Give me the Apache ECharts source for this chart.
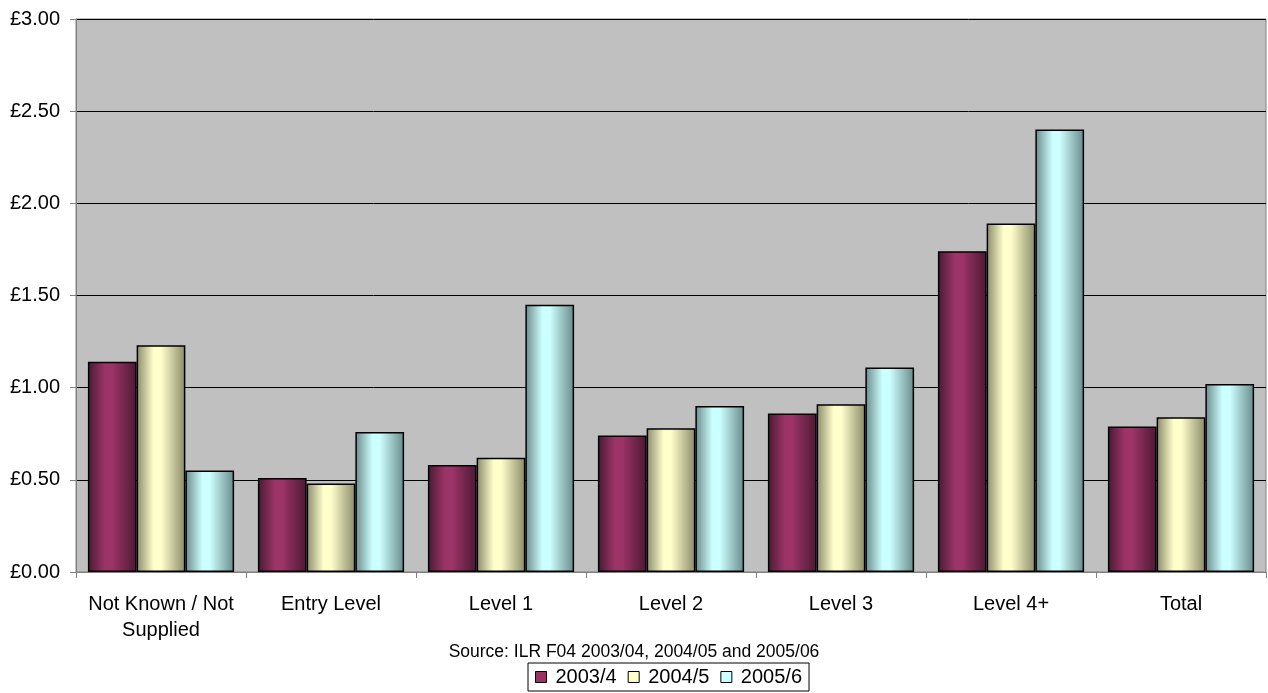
<!DOCTYPE html>
<html>
<head>
<meta charset="utf-8">
<script src="https://cdn.jsdelivr.net/npm/echarts@6/dist/echarts.min.js"></script>
<style>
html,body{margin:0;padding:0;background:#fff;}
#c{width:1268px;height:693px;}
</style>
</head>
<body>
<div id="c"></div>
<script>
const categories = ['Not Known / Not\nSupplied', 'Entry Level', 'Level 1', 'Level 2', 'Level 3', 'Level 4+', 'Total'];
const seriesNames = ['2003/4', '2004/5', '2005/6'];
const s2003 = [1.14, 0.51, 0.58, 0.74, 0.86, 1.74, 0.79];
const s2004 = [1.23, 0.48, 0.62, 0.78, 0.91, 1.89, 0.84];
const s2005 = [0.55, 0.76, 1.45, 0.90, 1.11, 2.40, 1.02];
const sourceText = 'Source: ILR F04 2003/04, 2004/05 and 2005/06';

const palette = [
  {base:'#993366', dark:'#4a1a33', light:'#9c3468'},
  {base:'#FFFFCC', dark:'#8a8a6a', light:'#ffffcc'},
  {base:'#CCFFFF', dark:'#6a8a8a', light:'#ccffff'}
];
function grad(p){
  return new echarts.graphic.LinearGradient(0,0,1,0,[
    {offset:0, color:p.dark},
    {offset:0.35, color:p.light},
    {offset:0.5, color:p.light},
    {offset:1, color:p.dark}
  ]);
}
const allData = [s2003, s2004, s2005];
const chart = echarts.init(document.getElementById('c'), null, {renderer:'canvas'});
const font = 'Liberation Sans, Arial, sans-serif';
chart.setOption({
  animation:false,
  textStyle:{fontFamily:font},
  title:{
    text:sourceText, left:'center', top:641, padding:0,
    textStyle:{fontFamily:font, fontSize:17.5, fontWeight:'normal', color:'#000', lineHeight:22}
  },
  legend:{
    top:663, left:528,
    padding:[4,7,4,7],
    borderColor:'#000', borderWidth:1,
    itemWidth:11, itemHeight:11, itemGap:11,
    icon:'rect',
    textStyle:{fontFamily:font, fontSize:20, color:'#000', padding:[0,0,0,4]},
    data: seriesNames.map((n,i)=>({name:n, itemStyle:{color:palette[i].base, borderColor:'#000', borderWidth:1}}))
  },
  grid:{left:76, right:2, top:19, bottom:121, show:true, backgroundColor:'#C0C0C0', borderColor:'#808080', borderWidth:1},
  xAxis:{
    type:'category', data:categories,
    axisLine:{lineStyle:{color:'#808080'}},
    axisTick:{show:true, length:6, lineStyle:{color:'#808080'}},
    axisLabel:{color:'#000', fontSize:20, fontFamily:font, margin:19, lineHeight:26, interval:0}
  },
  yAxis:{
    type:'value', min:0, max:3, interval:0.5,
    axisLine:{show:true, lineStyle:{color:'#808080'}},
    axisTick:{show:true, length:6, lineStyle:{color:'#808080'}},
    axisLabel:{color:'#000', fontSize:20, fontFamily:font, margin:16, formatter:v=>'£'+v.toFixed(2)},
    splitLine:{lineStyle:{color:'#000', width:1}}
  },
  series: seriesNames.map((n,i)=>({
    name:n, type:'bar', data:allData[i],
    barGap:'0%', barCategoryGap:'14%',
    itemStyle:{color:grad(palette[i]), borderColor:'#000', borderWidth:1.5}
  }))
});
</script>
</body>
</html>
